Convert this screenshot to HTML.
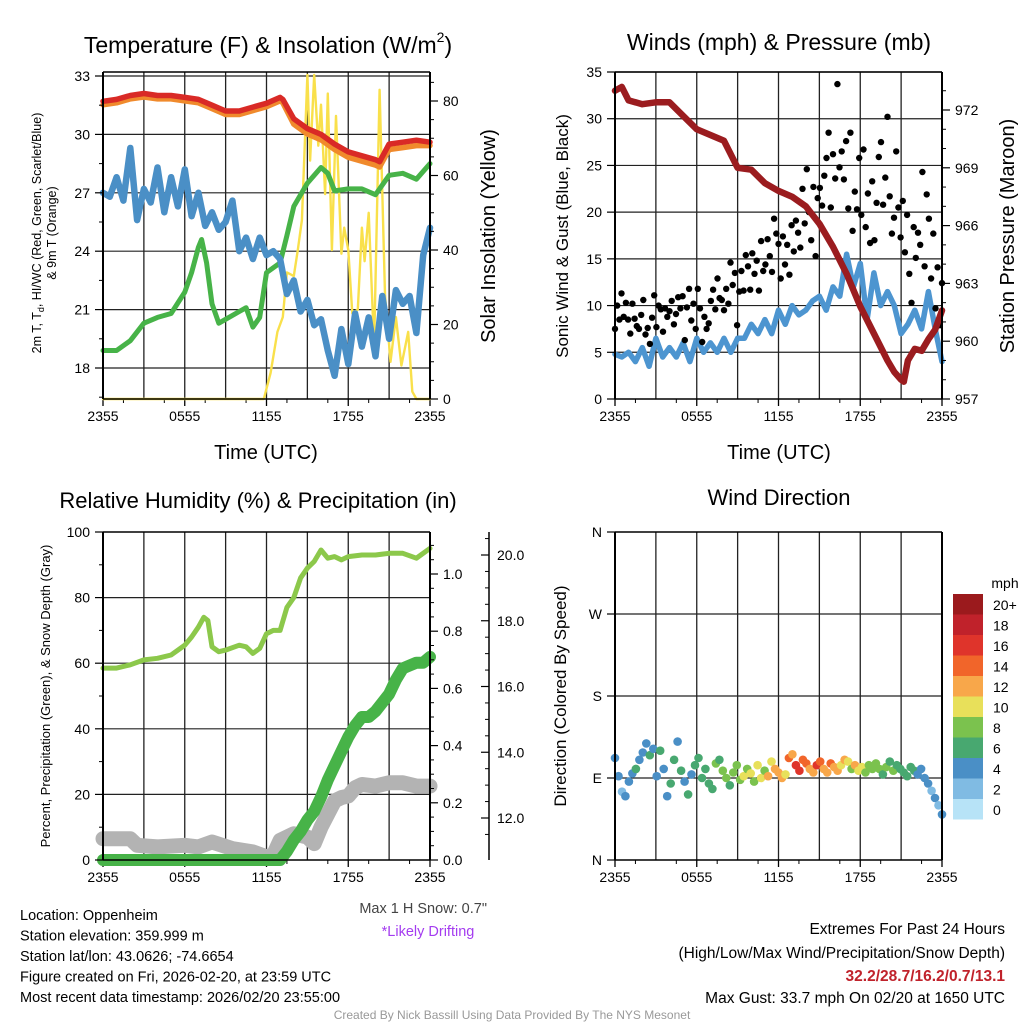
<!DOCTYPE html>
<html><head><meta charset="utf-8"><style>
html,body{margin:0;padding:0;background:#fff;}
svg{display:block;font-family:"Liberation Sans",sans-serif;}
</style></head><body>
<svg id="c" width="1024" height="1024" viewBox="0 0 1024 1024"></svg>
<script>
// ---------- DATA ----------
const timeTicks = ["2355","0555","1155","1755","2355"];
const tempT = [0,1,2,3,4,5,6,7,8,9,10,11,12,13,13.2,14,15,16,17,18,19,20,20.3,21,22,23,24];
const tempRed = [31.7,31.8,32.0,32.1,32.0,32.0,31.9,31.8,31.5,31.2,31.2,31.4,31.6,31.9,31.8,30.8,30.3,30.0,29.5,29.1,28.9,28.7,28.6,29.5,29.6,29.7,29.6];
const tempOrange = [31.6,31.7,31.9,32.0,31.9,31.9,31.8,31.7,31.4,31.1,31.1,31.3,31.5,31.8,31.7,30.6,30.1,29.8,29.3,28.9,28.7,28.5,28.4,29.3,29.4,29.5,29.5];
const dewT = [0,1,2,3,4,5,6,6.5,7,7.24,7.6,8,8.5,9,10,10.5,11,11.5,12,13,13.5,14,15,16,16.5,17,18,19,20,21,22,23,24];
const dewV = [18.9,18.9,19.4,20.3,20.6,20.8,21.9,22.9,24.2,24.6,23.4,21.3,20.3,20.5,20.9,21.1,20.1,20.6,22.9,23.4,24.8,26.3,27.5,28.3,28.0,27.1,27.2,27.2,26.9,27.9,28.0,27.7,28.5];
const wcV = [27.0,26.8,27.8,26.6,29.3,25.6,27.2,26.5,28.3,26.0,27.8,26.3,28.2,25.8,27.0,25.3,26.0,25.1,25.5,26.6,24.0,24.7,23.6,24.7,23.8,24.0,23.6,21.8,22.5,20.9,21.5,20.2,20.5,18.9,17.6,20.0,18.2,20.8,19.1,20.6,18.6,21.7,19.5,22.0,21.3,21.7,19.8,23.8,25.2];
const solT = [0,11.8,12.3,12.8,13.2,13.5,14.0,14.3,14.6,15.0,15.2,15.5,15.8,16.0,16.3,16.5,16.8,17.1,17.5,17.7,18.0,18.3,18.7,19.0,19.2,19.5,19.9,20.3,20.7,21.1,21.5,21.9,22.4,22.7,23.0,24];
const solV = [0,0,7,18,22,34,33,40,48,87,64,87,68,79,55,82,40,76,39,46,40,23,24,46,37,50,14,83,28,10,22,9,18,2,0,0];
const windV = [4.8,4.5,5.0,4.0,5.5,3.5,6.5,4.5,5.5,4.5,6.0,4.0,6.5,5.0,6.0,5.0,6.5,5.0,6.5,6.5,8.0,7.0,8.5,7.0,9.5,8.0,10.0,9.0,9.5,10.5,11.0,9.5,12.0,11.0,15.5,12.0,14.5,8.5,13.5,10.0,11.5,10.0,7.0,8.0,9.5,7.5,11.5,7.5,4.0];
const gustV = [7.5,10,8.5,11.3,8.8,10.3,8.5,7,10.2,8.6,7.8,7.5,9,10.6,6.9,7.6,5.9,8.7,11.1,7.7,10,9.6,7.2,9.7,8.8,
 9.4,10.5,8,9.1,10.9,9.7,11,6.3,9.8,11.8,8.4,10.2,7.5,11.8,9.7,6.1,8.8,7.5,8.1,10.5,11.7,9.6,12.9,10.8,
 10.6,9.5,11.8,10.2,14.6,12.2,13.5,7.9,11.5,13.7,11.6,15.4,14.2,11.7,15.6,13.4,14.8,11.6,16.9,13.7,14.4,17.1,15.3,13.6,
 19.3,17.7,16.6,12.9,17.4,14.4,16.5,13.3,18.6,15.8,19.1,17.8,16.2,22.5,18.8,24.6,20.0,17.0,22.7,15.3,21.5,22.6,20.7,23.9,
 25.8,28.5,20.5,26.2,23.6,33.7,24.8,26.5,23.5,27.6,20.4,28.5,18.0,22.2,20.3,25.8,19.7,26.7,18.4,22.0,16.7,23.3,17.0,21.0,
 25.9,27.5,20.8,23.7,30.2,21.7,17.7,19.4,26.5,20.5,17.3,21.2,15.7,19.7,13.4,10.3,18.4,15.1,17.8,16.5,24.3,14.2,21.9,19.3,12.9,17.7,9.7,14.1,7.9,12.4];
const presT = [0,0.5,1,2,3,4,5,6,7,8,9,10,11,12,13,14,15,16,17,18,19,20,20.5,21,21.2,21.5,22,22.5,23,23.5,24];
const presV = [973.0,973.2,972.5,972.3,972.4,972.4,971.7,971.0,970.7,970.4,969.0,968.9,968.2,967.8,967.5,967.0,966.1,964.9,963.5,961.8,960.4,959.0,958.4,958.0,957.9,959.0,959.6,959.5,960.1,960.6,961.6];
const rhT = [0,1,2,3,4,5,6,6.5,7,7.4,7.7,8,8.5,9,10,10.5,11,11.5,12,12.5,13,13.5,14,14.5,15,15.5,16,16.5,17,17.5,18,19,20,21,22,23,24];
const rhV = [58.5,58.5,59.5,61,61.5,62.5,65.5,68,71,74,73,65,63.5,64,65.5,65,63,64.5,69,70,70,77,80,86,89,91,94.5,92,92.5,91.5,92.5,93,93,93.5,93.5,92,95];
const prT = [0,13,13.5,14,14.5,15,15.5,16,16.5,17,17.5,18,18.5,19,19.5,20,20.5,21,21.5,22,22.5,23,23.5,24];
const prV = [0,0,0.03,0.07,0.10,0.14,0.17,0.22,0.28,0.33,0.38,0.43,0.47,0.50,0.50,0.52,0.55,0.58,0.63,0.67,0.68,0.69,0.69,0.71];
const snT = [0,2,2.5,4,6,7,8,9.5,11,12,12.5,13,14,15,15.5,16,16.5,17,17.5,18,18.5,19,20,21,22,23,24];
const snV = [11.37,11.37,11.17,11.12,11.17,11.12,11.27,11.07,10.97,10.82,10.87,11.32,11.52,11.42,11.22,11.72,12.12,12.52,12.62,12.67,12.92,13.02,12.97,13.07,13.07,12.97,12.97];
const dirD = [112,92,75,70,86,95,100,110,118,128,115,122,92,120,100,70,84,110,130,98,86,72,94,104,112,
 90,100,84,78,106,110,98,90,82,96,104,88,92,100,95,86,104,90,98,92,108,100,96,90,94,
 112,116,104,98,110,106,100,96,104,108,100,96,106,102,98,104,110,108,100,104,98,102,96,104,100,
 106,100,94,102,108,98,104,100,96,92,102,98,94,100,90,84,76,68,60,50];
const dirS = [4,4,3,5,4,5,6,4,5,5,6,5,4,6,5,5,6,6,4,6,5,6,5,6,6,
 6,6,7,7,8,7,8,8,7,8,9,9,10,9,10,8,11,10,9,12,11,13,12,12,11,
 14,13,16,17,15,14,12,13,16,15,13,12,14,13,12,11,12,10,9,12,10,11,8,9,8,
 9,8,7,8,7,8,7,6,6,7,6,6,5,5,4,4,3,4,2,4];
const speedLabels = ["20+","18","16","14","12","10","8","6","4","2","0"];
const speedColors = ["#9b1a1d","#c0222b","#df342b","#f1652a","#f8a74a","#e8e05a","#7bc24e","#48a870","#4a8fc6","#80bbe3","#b7e3f7"];

// ---------- HELPERS ----------
const S = document.getElementById('c');
const NS = 'http://www.w3.org/2000/svg';
function mk(tag, attrs, name, parent) {
  const e = document.createElementNS(NS, tag);
  for (const k in attrs) e.setAttribute(k, attrs[k]);
  
  
  (parent || S).appendChild(e);
  return e;
}
function txt(x, y, s, size, name, opts) {
  opts = opts || {};
  const a = {x:x, y:y, 'font-size':size, fill:opts.fill||'#000', 'text-anchor':opts.anchor||'middle'};
  if (opts.weight) a['font-weight'] = opts.weight;
  if (opts.rot) a.transform = 'rotate(-90 ' + x + ' ' + y + ')';
  const e = mk('text', a, name);
  if (opts.html) e.innerHTML = s; else e.textContent = s;
  return e;
}
const X0 = 103, XW = 327;
function xs(t, off) { return off + X0 + t / 24 * XW; }
function lin(d0, d1, p0, p1) { return v => p0 + (v - d0) / (d1 - d0) * (p1 - p0); }
function path(ts, vs, fx, fy, stroke, w, name) {
  let d = '';
  for (let i = 0; i < ts.length; i++) d += (i ? 'L' : 'M') + fx(ts[i]).toFixed(1) + ' ' + fy(vs[i]).toFixed(1);
  return mk('path', {d:d, fill:'none', stroke:stroke, 'stroke-width':w, 'stroke-linejoin':'round', 'stroke-linecap':'round'}, name);
}
function evenT(n) { const a = []; for (let i = 0; i < n; i++) a.push(i / (n - 1) * 24); return a; }

function panelFrame(off, top, bot, name) {
  const g = mk('g', {}, name + '-grid');
  for (let i = 0; i <= 8; i++) {
    const x = off + X0 + i * XW / 8;
    mk('line', {x1:x, y1:top, x2:x, y2:bot, stroke:'#222', 'stroke-width':1.3}, 'vertical-gridline', g);
  }
  for (let i = 0; i < 5; i++) {
    const x = off + X0 + i * XW / 4;
    mk('line', {x1:x, y1:bot, x2:x, y2:bot + 7, stroke:'#000', 'stroke-width':1.3}, 'x-tick', g);
    txt(x, bot + 22, timeTicks[i], 14, 'x-tick-label');
  }
  for (let i = 0; i < 8; i++) {
    const x = off + X0 + (i + 0.5) * XW / 8;
    mk('line', {x1:x, y1:bot, x2:x, y2:bot + 4, stroke:'#000', 'stroke-width':1}, 'x-minor-tick', g);
  }
}
function hgrid(off, ys) { ys.forEach(y => mk('line', {x1:off + X0, y1:y, x2:off + X0 + XW, y2:y, stroke:'#222', 'stroke-width':1.2}, 'horizontal-gridline')); }
function yAxis(x, ticks, fy, labels, side, minor, name, len) {
  const dir = side === 'left' ? -1 : 1;
  ticks.forEach((v, i) => {
    const y = fy(v);
    mk('line', {x1:x, y1:y, x2:x + dir * (len || 8), y2:y, stroke:'#000', 'stroke-width':1.2}, name + '-tick');
    txt(x + dir * 13, y + 5, labels[i], 14, name + '-label', {anchor: side === 'left' ? 'end' : 'start'});
  });
  (minor || []).forEach(v => { const y = fy(v); mk('line', {x1:x, y1:y, x2:x + dir * 4, y2:y, stroke:'#000', 'stroke-width':1}, name + '-minor-tick'); });
}
function border(off, top, bot) {
  mk('line', {x1:off + X0, y1:top, x2:off + X0, y2:bot, stroke:'#000', 'stroke-width':2}, 'left-axis-line');
  mk('line', {x1:off + X0 + XW, y1:top, x2:off + X0 + XW, y2:bot, stroke:'#000', 'stroke-width':2}, 'right-axis-line');
  mk('line', {x1:off + X0, y1:bot, x2:off + X0 + XW, y2:bot, stroke:'#000', 'stroke-width':1.5}, 'bottom-axis-line');
  mk('line', {x1:off + X0, y1:top, x2:off + X0 + XW, y2:top, stroke:'#000', 'stroke-width':1.5}, 'top-axis-line');
}
function rng(a, b, s) { const r = []; for (let v = a; v <= b + 1e-9; v += s) r.push(+v.toFixed(3)); return r; }

// ---------- PANEL 1: Temperature ----------
(function () {
  const off = 0, top = 72, bot = 399;
  const fy = lin(18, 33, 368, 76), fs = lin(0, 80, 399, 101), fx = t => xs(t, off);
  panelFrame(off, top, bot, 'temp-panel');
  hgrid(off, [33, 30, 27, 24, 21, 18].map(fy));
  path(solT, solV, fx, fs, '#f9e04b', 2.4, 'solar-insolation-line');
  path(tempT, tempOrange, fx, v => fy(v) + 1.5, '#f08a2c', 5.5, 'temp-9m-line');
  path(tempT, tempRed, fx, fy, '#d92a26', 5.5, 'temp-2m-line');
  path(dewT, dewV, fx, fy, '#47b348', 5, 'dewpoint-line');
  path(evenT(wcV.length), wcV, fx, fy, '#4a8fc6', 6.5, 'windchill-line');
  border(off, top, bot);
  yAxis(X0, [33, 30, 27, 24, 21, 18], fy, ['33', '30', '27', '24', '21', '18'], 'left', [31.5, 28.5, 25.5, 22.5, 19.5, 16.5], 'temp-y');
  yAxis(X0 + XW, [0, 20, 40, 60, 80], fs, ['0', '20', '40', '60', '80'], 'right', [5, 10, 15, 25, 30, 35, 45, 50, 55, 65, 70, 75, 85], 'solar-y');
  txt(268, 53, 'Temperature (F) &amp; Insolation (W/m<tspan font-size="14" dy="-11">2</tspan><tspan dy="11">)</tspan>', 23, 'temp-panel-title', {html: true});
  txt(41, 233, '2m T, T<tspan font-size="9" dy="3">d</tspan><tspan dy="-3">, HI/WC (Red, Green, Scarlet/Blue)</tspan>', 12.5, 'temp-y-title-line1', {rot: true, html: true});
  txt(56, 233, '&amp; 9m T (Orange)', 12.5, 'temp-y-title-line2', {rot: true, html: true});
  txt(266, 459, 'Time (UTC)', 20, 'x-axis-title');
  txt(495, 236, 'Solar Insolation (Yellow)', 20, 'solar-y-title', {rot: true});
})();

// ---------- PANEL 2: Winds ----------
(function () {
  const off = 512, top = 72, bot = 399;
  const fy = lin(0, 35, 399, 72), fp = lin(957, 972, 399, 110), fx = t => xs(t, off);
  panelFrame(off, top, bot, 'wind-panel');
  hgrid(off, [35, 30, 25, 20, 15, 10, 5].map(fy));
  path(evenT(windV.length), windV, fx, fy, '#4d95d0', 5.5, 'sonic-wind-line');
  const gt = evenT(gustV.length);
  gustV.forEach((v, i) => {
    const c = mk('circle', {cx: fx(gt[i]).toFixed(1), cy: fy(v).toFixed(1), r: 3.2, fill: '#000'}, 'gust-point');
  });
  path(presT, presV, fx, fp, '#9b1c1f', 6.5, 'station-pressure-line');
  border(off, top, bot);
  yAxis(off + X0, [0, 5, 10, 15, 20, 25, 30, 35], fy, ['0', '5', '10', '15', '20', '25', '30', '35'], 'left', [], 'wind-y');
  yAxis(off + X0 + XW, [957, 960, 963, 966, 969, 972], fp, ['957', '960', '963', '966', '969', '972'], 'right', [958, 959, 961, 962, 964, 965, 967, 968, 970, 971, 973], 'pressure-y');
  txt(779, 50, 'Winds (mph) &amp; Pressure (mb)', 23, 'wind-panel-title', {html: true});
  txt(779, 459, 'Time (UTC)', 20, 'wind-x-axis-title');
  txt(568, 236, 'Sonic Wind &amp; Gust (Blue, Black)', 17, 'wind-y-title', {rot: true, html: true});
  txt(1014, 236, 'Station Pressure (Maroon)', 20, 'pressure-y-title', {rot: true});
})();

// ---------- PANEL 3: RH & Precip ----------
(function () {
  const off = 0, top = 532, bot = 860;
  const fy = lin(0, 100, 860, 532), fpr = lin(0, 1, 860, 574), fsn = lin(12, 20, 818, 555), fx = t => xs(t, off);
  panelFrame(off, top, bot, 'rh-panel');
  hgrid(off, [80, 60, 40, 20].map(fy));
  path(snT, snV, fx, fsn, '#b3b3b3', 15, 'snow-depth-line');
  path(rhT, rhV, fx, fy, '#8cc84b', 5, 'relative-humidity-line');
  path(prT, prV, fx, fpr, '#47b348', 12, 'precipitation-line');
  border(off, top, bot);
  yAxis(X0, [0, 20, 40, 60, 80, 100], fy, ['0', '20', '40', '60', '80', '100'], 'left', [10, 30, 50, 70, 90], 'rh-y');
  yAxis(X0 + XW, [0, 0.2, 0.4, 0.6, 0.8, 1.0], fpr, ['0.0', '0.2', '0.4', '0.6', '0.8', '1.0'], 'right', rng(0.05, 1.1, 0.05).filter(v => Math.abs(v * 5 - Math.round(v * 5)) > 0.01), 'precip-y');
  mk('line', {x1:489, y1:532, x2:489, y2:860, stroke:'#000', 'stroke-width':1.5}, 'snow-axis-line');
  [12, 14, 16, 18, 20].forEach(v => {
    const y = fsn(v);
    mk('line', {x1:489, y1:y, x2:481, y2:y, stroke:'#000', 'stroke-width':1.2}, 'snow-y-tick');
    txt(497, y + 5, v.toFixed(1), 14, 'snow-y-label', {anchor: 'start'});
  });
  rng(11.5, 20.5, 0.5).filter(v => v % 2 !== 0).forEach(v => { const y = fsn(v); if (y > 532 && y < 860) mk('line', {x1:489, y1:y, x2:485, y2:y, stroke:'#000', 'stroke-width':1}, 'snow-minor-tick'); });
  txt(258, 508, 'Relative Humidity (%) &amp; Precipitation (in)', 22, 'rh-panel-title', {html: true});
  txt(50, 696, 'Percent, Precipitation (Green), &amp; Snow Depth (Gray)', 13, 'rh-y-title', {rot: true, html: true});
})();

// ---------- PANEL 4: Wind Direction ----------
(function () {
  const off = 512, top = 532, bot = 860;
  const fy = lin(0, 360, 860, 532), fx = t => xs(t, off);
  panelFrame(off, top, bot, 'direction-panel');
  hgrid(off, [90, 180, 270].map(fy));
  const dt = evenT(dirD.length);
  dirD.forEach((d, i) => {
    const k = Math.min(10, Math.max(0, Math.floor(dirS[i] / 2)));
    const c = mk('circle', {cx: fx(dt[i]).toFixed(1), cy: fy(d).toFixed(1), r: 4.3, fill: speedColors[10 - k]}, 'direction-point');
  });
  border(off, top, bot);
  yAxis(off + X0, [0, 90, 180, 270, 360], fy, ['N', 'E', 'S', 'W', 'N'], 'left', [], 'direction-y');
  txt(779, 505, 'Wind Direction', 22, 'direction-panel-title');
  txt(566, 696, 'Direction (Colored By Speed)', 17, 'direction-y-title', {rot: true});
  txt(1005, 588, 'mph', 14, 'legend-title');
  speedLabels.forEach((l, i) => {
    const y = 594 + i * 20.5;
    mk('rect', {x:953, y:y, width:30, height:20.5, fill:speedColors[i]}, 'legend-swatch');
    txt(993, y + 16, l, 14, 'legend-label', {anchor: 'start'});
  });
})();

// ---------- FOOTER ----------
const leftLines = ['Location: Oppenheim', 'Station elevation: 359.999 m', 'Station lat/lon: 43.0626; -74.6654', 'Figure created on Fri, 2026-02-20, at 23:59 UTC', 'Most recent data timestamp: 2026/02/20 23:55:00'];
leftLines.forEach((s, i) => txt(20, 920 + i * 20.5, s, 14.5, 'station-info-line', {anchor: 'start'}));
txt(487, 913, 'Max 1 H Snow: 0.7"', 14.5, 'max-snow-note', {anchor: 'end', fill: '#444'});
txt(428, 936, '*Likely Drifting', 14.5, 'drifting-note', {fill: '#a43cf0'});
txt(1005, 934, 'Extremes For Past 24 Hours', 15.5, 'extremes-title', {anchor: 'end'});
txt(1005, 958, '(High/Low/Max Wind/Precipitation/Snow Depth)', 15.5, 'extremes-subtitle', {anchor: 'end'});
txt(1005, 981, '32.2/28.7/16.2/0.7/13.1', 15.5, 'extremes-values', {anchor: 'end', fill: '#c0222b', weight: 'bold'});
txt(1005, 1003, 'Max Gust: 33.7 mph On 02/20 at 1650 UTC', 15.5, 'max-gust-note', {anchor: 'end'});
txt(512, 1019, 'Created By Nick Bassill Using Data Provided By The NYS Mesonet', 12, 'credit-line', {fill: '#999'});
</script>
</body></html>
